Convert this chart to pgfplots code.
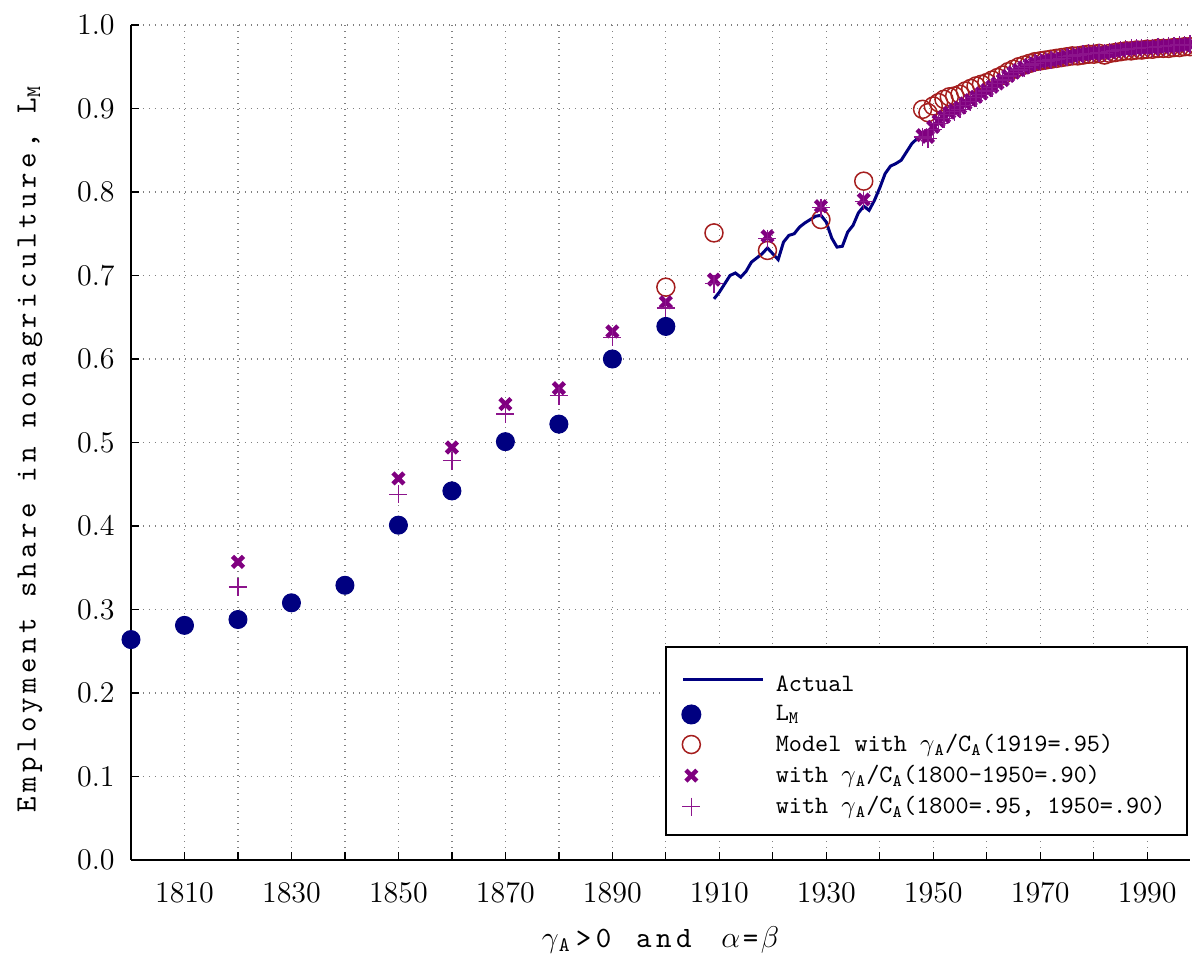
\documentclass[border=0pt]{standalone}
\usepackage{fontspec}
\usepackage{pgfplots}
\pgfplotsset{compat=1.18}

\newfontfamily\spacedtt{lmmono10-regular.otf}[LetterSpace=15]

\definecolor{lmnavy}{RGB}{0,0,128}
\definecolor{modelred}{RGB}{165,30,30}
\definecolor{xpurple}{RGB}{128,0,128}
\definecolor{ppurple}{RGB}{140,20,140}

\newcommand{\labfont}{\fontsize{11.8}{14}\selectfont\spacedtt}
\newcommand{\legfont}{\fontsize{10}{12}\selectfont\ttfamily}

% legend samples: a 32pt line, or one mark near the left of a 35pt slot
\pgfplotsset{
  lineleg/.style={legend image code/.code={%
      \path[draw=none,fill=none] (0pt,-3pt) rectangle (35pt,3pt);
      \draw[##1] (0pt,0pt) -- (32pt,0pt);}},
  markleg/.style={legend image code/.code={%
      \path[draw=none,fill=none] (0pt,-3pt) rectangle (35pt,3pt);
      \draw[##1] plot coordinates {(3.2pt,0pt)};}},
}

\begin{document}
\begin{tikzpicture}
\begin{axis}[
  scale only axis,
  width=423.6pt, height=334pt,
  xmin=1800, xmax=1998, ymin=0, ymax=1,
  axis x line*=bottom, axis y line*=left,
  axis line style={line width=1pt,-},
  xtick={1810,1820,1830,1840,1850,1860,1870,1880,1890,1900,1910,1920,1930,1940,1950,1960,1970,1980,1990},
  xticklabels={1810,,1830,,1850,,1870,,1890,,1910,,1930,,1950,,1970,,1990},
  ytick={0,0.1,0.2,0.3,0.4,0.5,0.6,0.7,0.8,0.9,1.0},
  yticklabel style={xshift=-3pt,
    /pgf/number format/fixed,
    /pgf/number format/fixed zerofill,
    /pgf/number format/precision=1},
  ticklabel style={font=\fontsize{12}{14}\selectfont},
  xticklabel style={yshift=-5.5pt},
  tick align=inside, major tick length=3pt,
  tick style={black,line width=0.5pt},
  grid=major,
  major grid style={gray,dotted,line width=0.5pt},
  xlabel={$\gamma$\textsubscript{A}\hspace{2pt}>0\hspace{2pt} and\hspace{4pt} $\alpha$\hspace{1pt}=\hspace{1pt}$\beta$},
  ylabel={Employment share in nonagriculture, L\textsubscript{M}},
  label style={font=\labfont},
  xlabel style={at={(axis description cs:0.5,-0.0958)},anchor=center},
  ylabel style={at={(axis description cs:-0.0954,0.492)},anchor=center},
  legend style={
    at={(rel axis cs:0.998,0.029)}, anchor=south east,
    draw=black, line width=0.8pt,
    font=\legfont,
    cells={anchor=west},
    row sep=0pt,
    inner xsep=6.5pt, inner ysep=5pt,
  },
  legend cell align=left,
]

% Actual
\addplot[lmnavy, line width=1.2pt, lineleg] coordinates {
  (1909,0.672) (1910,0.680) (1911,0.690) (1912,0.700) (1913,0.703) (1914,0.698)
  (1915,0.705) (1916,0.716) (1917,0.721) (1918,0.726) (1919,0.733) (1920,0.726)
  (1921,0.719) (1922,0.740) (1923,0.748) (1924,0.750) (1925,0.758) (1926,0.763)
  (1927,0.767) (1928,0.771) (1929,0.772) (1930,0.764) (1931,0.745) (1932,0.734)
  (1933,0.735) (1934,0.752) (1935,0.760) (1936,0.775) (1937,0.783) (1938,0.778)
  (1939,0.790) (1940,0.805) (1941,0.822) (1942,0.831) (1943,0.834) (1944,0.838)
  (1945,0.848) (1946,0.858) (1947,0.864) (1948,0.869) (1949,0.869) (1950,0.878)
  (1951,0.885) (1952,0.890) (1953,0.895) (1954,0.898) (1955,0.901) (1956,0.906)
  (1957,0.910) (1958,0.914) (1959,0.918) (1960,0.922) (1961,0.926) (1962,0.930)
  (1963,0.934) (1964,0.939) (1965,0.943) (1966,0.946) (1967,0.949) (1968,0.952)
  (1969,0.954) (1970,0.956) (1971,0.957) (1972,0.958) (1973,0.959) (1974,0.960)
  (1975,0.962) (1976,0.963) (1977,0.964) (1978,0.965) (1979,0.966) (1980,0.966)
  (1981,0.967) (1982,0.966) (1983,0.968) (1984,0.969) (1985,0.970) (1986,0.971)
  (1987,0.972) (1988,0.972) (1989,0.973) (1990,0.973) (1991,0.973) (1992,0.974)
  (1993,0.974) (1994,0.975) (1995,0.975) (1996,0.976) (1997,0.976) (1998,0.977)
};
\addlegendentry{\rule{0pt}{10.5pt}Actual}

% L_M
\addplot[only marks, mark=*, mark size=3.6pt, lmnavy, mark options={fill=lmnavy}, markleg] coordinates {
  (1800,0.264) (1810,0.281) (1820,0.288) (1830,0.308) (1840,0.329) (1850,0.401)
  (1860,0.442) (1870,0.501) (1880,0.522) (1890,0.600) (1900,0.639)
};
\addlegendentry{L\textsubscript{M}}

% Model with gamma_A/C_A(1919=.95)
\addplot[only marks, mark=o, mark size=3.6pt, modelred, line width=0.6pt, markleg] coordinates {
  (1900,0.686) (1909,0.751) (1919,0.730) (1929,0.767) (1937,0.813)
  (1948,0.899) (1949,0.895) (1950,0.903) (1951,0.907) (1952,0.911) (1953,0.914)
  (1954,0.915) (1955,0.917) (1956,0.921) (1957,0.924) (1958,0.927) (1959,0.929)
  (1960,0.931) (1961,0.934) (1962,0.937) (1963,0.940) (1964,0.944) (1965,0.947)
  (1966,0.950) (1967,0.952) (1968,0.954) (1969,0.956) (1970,0.957) (1971,0.958)
  (1972,0.959) (1973,0.960) (1974,0.961) (1975,0.962) (1976,0.963) (1977,0.963)
  (1978,0.964) (1979,0.965) (1980,0.965) (1981,0.966) (1982,0.964) (1983,0.966)
  (1984,0.967) (1985,0.968) (1986,0.969) (1987,0.969) (1988,0.970) (1989,0.970)
  (1990,0.971) (1991,0.971) (1992,0.972) (1993,0.972) (1994,0.972) (1995,0.973)
  (1996,0.973) (1997,0.974) (1998,0.974)
};
\addlegendentry{Model with $\gamma$\textsubscript{A}/C\textsubscript{A}(1919=.95)}

% with gamma_A/C_A(1800-1950=.90)
\addplot[only marks, mark=x, mark size=3.1pt, xpurple, line width=1.8pt, markleg] coordinates {
  (1820,0.357) (1850,0.457) (1860,0.494) (1870,0.546) (1880,0.565) (1890,0.633)
  (1900,0.668) (1909,0.695) (1919,0.747) (1929,0.783) (1937,0.791)
  (1948,0.868) (1949,0.866) (1950,0.878) (1951,0.885) (1952,0.890) (1953,0.895)
  (1954,0.898) (1955,0.901) (1956,0.906) (1957,0.910) (1958,0.914) (1959,0.918)
  (1960,0.922) (1961,0.926) (1962,0.930) (1963,0.934) (1964,0.939) (1965,0.943)
  (1966,0.946) (1967,0.949) (1968,0.952) (1969,0.954) (1970,0.956) (1971,0.957)
  (1972,0.958) (1973,0.959) (1974,0.960) (1975,0.962) (1976,0.963) (1977,0.964)
  (1978,0.965) (1979,0.966) (1980,0.966) (1981,0.967) (1982,0.966) (1983,0.968)
  (1984,0.969) (1985,0.970) (1986,0.971) (1987,0.972) (1988,0.972) (1989,0.973)
  (1990,0.973) (1991,0.973) (1992,0.974) (1993,0.974) (1994,0.975) (1995,0.975)
  (1996,0.976) (1997,0.976) (1998,0.977)
};
\addlegendentry{with $\gamma$\textsubscript{A}/C\textsubscript{A}(1800-1950=.90)}

% with gamma_A/C_A(1800=.95, 1950=.90)
\addplot[only marks, mark=+, mark size=3.6pt, ppurple, line width=0.5pt, markleg] coordinates {
  (1820,0.327) (1850,0.438) (1860,0.478) (1870,0.534) (1880,0.556) (1890,0.626)
  (1900,0.661) (1909,0.690) (1919,0.744) (1929,0.781) (1937,0.789)
  (1948,0.866) (1949,0.864) (1950,0.875) (1951,0.882) (1952,0.888) (1953,0.893)
  (1954,0.896) (1955,0.899) (1956,0.904) (1957,0.908) (1958,0.913) (1959,0.917)
  (1960,0.921) (1961,0.925) (1962,0.930) (1963,0.934) (1964,0.939) (1965,0.943)
  (1966,0.946) (1967,0.949) (1968,0.952) (1969,0.954) (1970,0.956) (1971,0.957)
  (1972,0.958) (1973,0.959) (1974,0.960) (1975,0.962) (1976,0.963) (1977,0.964)
  (1978,0.965) (1979,0.966) (1980,0.966) (1981,0.967) (1982,0.966) (1983,0.968)
  (1984,0.969) (1985,0.970) (1986,0.971) (1987,0.972) (1988,0.972) (1989,0.973)
  (1990,0.973) (1991,0.973) (1992,0.974) (1993,0.974) (1994,0.975) (1995,0.975)
  (1996,0.976) (1997,0.976) (1998,0.977)
};
\addlegendentry{with $\gamma$\textsubscript{A}/C\textsubscript{A}(1800=.95, 1950=.90)}

\end{axis}
\pgfresetboundingbox
\path[use as bounding box] (current axis.south west) ++(-52.4pt,-41.2pt) rectangle ++(476.8pt,385.2pt);
\end{tikzpicture}
\end{document}
